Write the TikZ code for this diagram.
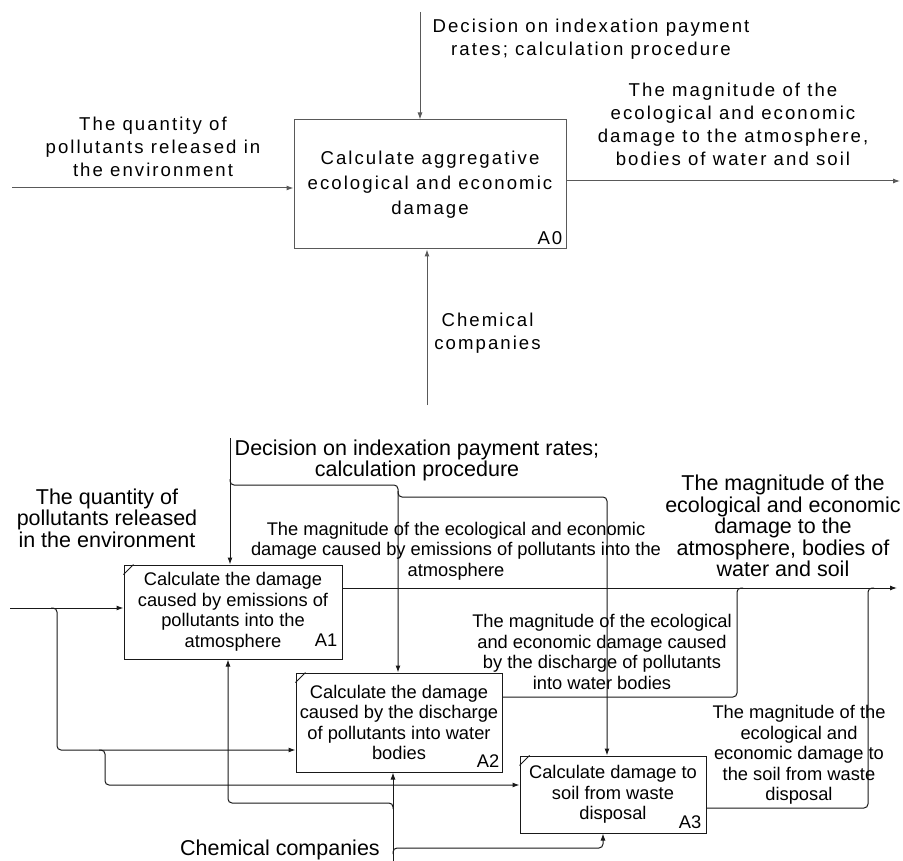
\documentclass[tikz,border=0pt]{standalone}
\usepackage{fontspec}
\setmainfont{Liberation Sans}
\newfontfamily\widefont[LetterSpace=11]{Liberation Sans}
\usetikzlibrary{arrows.meta,calc}
\begin{document}
\begin{tikzpicture}[x=1pt,y=-1pt,
  topln/.style={draw=black!65, line width=1pt},
  botln/.style={draw=black!90, line width=1pt},
  arr/.style={-{Latex[length=7pt,width=5pt]}},
  rc/.style={rounded corners=4pt},
  topbox/.style={topln, fill=white, inner sep=0pt, align=center, font=\widefont\fontsize{18.6}{25}\selectfont},
  botbox/.style={botln, fill=white, inner sep=0pt, align=center, font=\fontsize{18.3}{20.5}\selectfont},
  toptxt/.style={align=center, inner sep=0pt, font=\widefont\fontsize{18.6}{23}\selectfont},
  bigtxt/.style={align=center, inner sep=0pt, font=\fontsize{21.5}{21.5}\selectfont},
  smalltxt/.style={align=center, inner sep=0pt, font=\fontsize{18.3}{20.5}\selectfont},
  numtxt/.style={inner sep=0pt, anchor=base east, font=\fontsize{18.3}{20}\selectfont},
  topnum/.style={inner sep=0pt, anchor=base east, font=\widefont\fontsize{18.6}{20}\selectfont}
]
\useasboundingbox (0,0) rectangle (903,861);
\fill[white] (0,0) rectangle (903,861);

% ---------------- top diagram ----------------
\node[topbox, minimum width=272pt, minimum height=129pt] (A0) at (430,184.5)
  {Calculate aggregative\\ecological and economic\\damage};
\node[topnum] (A0n) at ($(A0.south east)+(-4,-4.5)$) {A0};

\coordinate (c0) at (420,12);
\coordinate (i0) at (12,188);
\coordinate (o0) at (900,181);
\coordinate (m0) at (427,405);
\draw[topln,arr] (c0) -- (c0 |- A0.north);
\draw[topln,arr] (i0) -- (i0 -| A0.west);
\draw[topln,arr] (A0.east |- o0) -- (o0);
\draw[topln,arr] (m0) -- (m0 |- A0.south);

\node[toptxt] (t0c) at (591,39) {Decision on indexation payment\\rates; calculation procedure};
\node[toptxt] (t0i) at (153,147) {The quantity of\\pollutants released in\\the environment};
\node[toptxt] (t0o) at (733,124.5) {The magnitude of the\\ecological and economic\\damage to the atmosphere,\\bodies of water and soil};
\node[toptxt] (t0m) at (487.5,333) {Chemical\\companies};

% ---------------- bottom diagram ----------------
\node[botbox, minimum width=218pt, minimum height=94pt] (A1) at (233,612)
  {Calculate the damage\\caused by emissions of\\pollutants into the\\atmosphere};
\node[botbox, minimum width=206pt, minimum height=99pt] (A2) at (399,722.5)
  {Calculate the damage\\caused by the discharge\\of pollutants into water\\bodies};
\node[botbox, minimum width=186pt, minimum height=77pt] (A3) at (613,794.5)
  {Calculate damage to\\soil from waste\\disposal};
\node[numtxt] (A1n) at ($(A1.south east)+(-5,-13)$) {A1};
\node[numtxt] (A2n) at ($(A2.south east)+(-3,-5)$) {A2};
\node[numtxt] (A3n) at ($(A3.south east)+(-5,-5)$) {A3};
\foreach \b in {A1,A2,A3}
  \draw[botln] ($(\b.north west)+(0,10)$) -- ($(\b.north west)+(10,0)$);

% controls
\coordinate (c1) at (230,438);
\coordinate (cb1) at (230,485);
\coordinate (ck2) at (398,485);
\coordinate (cb2) at (398,497);
\coordinate (ck3) at (607,497);
\draw[botln,arr] (c1) -- (c1 |- A1.north);
\draw[botln,arr,rc] ($(cb1)+(0,-6)$) -- (cb1) -- (ck2) -- (ck2 |- A2.north);
\draw[botln,arr,rc] ($(cb2)+(0,-6)$) -- (cb2) -- (ck3) -- (ck3 |- A3.north);

% inputs
\coordinate (i1) at (10,608);
\coordinate (ib1) at (57,608);
\coordinate (ik2) at (57,750);
\coordinate (ib2) at (105,750);
\coordinate (ik3) at (105,785);
\draw[botln,arr] (i1) -- (i1 -| A1.west);
\draw[botln,arr,rc] ($(ib1)+(-6,0)$) -- (ib1) -- (ik2) -- (ik2 -| A2.west);
\draw[botln,arr,rc] ($(ib2)+(-6,0)$) -- (ib2) -- (ik3) -- (ik3 -| A3.west);

% mechanisms
\coordinate (m1) at (393,861);
\coordinate (mb1) at (393,803);
\coordinate (mk1) at (228,803);
\coordinate (mb3) at (393,848);
\coordinate (mk3) at (603,848);
\draw[botln,arr] (m1) -- (m1 |- A2.south);
\draw[botln,arr,rc] ($(mb1)+(0,6)$) -- (mb1) -- (mk1) -- (mk1 |- A1.south);
\draw[botln,arr,rc] ($(mb3)+(0,6)$) -- (mb3) -- (mk3) -- (mk3 |- A3.south);

% outputs
\coordinate (o1) at (897,588);
\coordinate (ok2) at (737,697);
\coordinate (oj2) at (737,588);
\coordinate (ok3) at (868,808);
\coordinate (oj3) at (868,588);
\draw[botln,arr] (A1.east |- o1) -- (o1);
\draw[botln,rc] (A2.east |- ok2) -- (ok2) -- (oj2) -- ($(oj2)+(6,0)$);
\draw[botln,rc] (A3.east |- ok3) -- (ok3) -- (oj3) -- ($(oj3)+(6,0)$);

% labels
\node[bigtxt, font=\fontsize{21.5}{19.5}\selectfont] (t1c) at (417,460) {Decision on indexation payment rates;\\calculation procedure};
\node[bigtxt] (t1i) at (107,518) {The quantity of\\pollutants released\\in the environment};
\node[bigtxt] (t1o) at (783,526) {The magnitude of the\\ecological and economic\\damage to the\\atmosphere, bodies of\\water and soil};
\node[smalltxt] (t1o1) at (456,551) {The magnitude of the ecological and economic\\damage caused by emissions of pollutants into the\\atmosphere};
\node[smalltxt] (t1o2) at (602,652) {The magnitude of the ecological\\and economic damage caused\\by the discharge of pollutants\\into water bodies};
\node[smalltxt] (t1o3) at (799,755) {The magnitude of the\\ecological and\\economic damage to\\the soil from waste\\disposal};
\node[bigtxt] (t1m) at (280,850) {Chemical companies};
\end{tikzpicture}
\end{document}
